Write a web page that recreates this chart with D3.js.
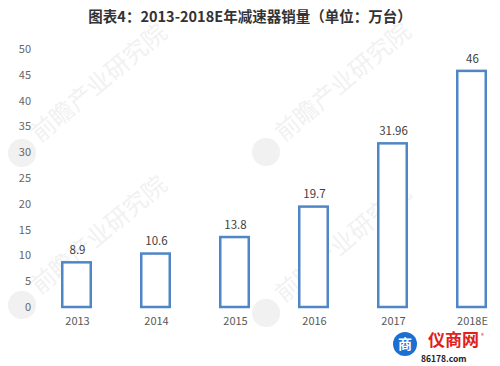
<!DOCTYPE html>
<html><head><meta charset="utf-8">
<script src="https://cdn.jsdelivr.net/npm/d3@7"></script>
<style>body{margin:0;background:#fff}svg{display:block}</style>
</head><body>
<script>
const categories = ["2013","2014","2015","2016","2017","2018E"];
const values = [8.9, 10.6, 13.8, 19.7, 31.96, 46];
const valueLabels = ["8.9","10.6","13.8","19.7","31.96","46"];
const yTicks = [0,5,10,15,20,25,30,35,40,45,50];
const title = "图表4：2013-2018E年减速器销量（单位：万台）";
const watermarks = [[22,153],[22,305],[266,152],[266,313]];

const W=500,H=366;
const svg=d3.select("body").append("svg").attr("width",W).attr("height",H);
const font="'Microsoft YaHei','Noto Sans CJK SC',sans-serif";

// faint watermarks
watermarks.forEach(([x,y])=>{
  const g=svg.append("g").attr("transform",`translate(${x},${y}) rotate(-40)`).attr("opacity",0.07);
  g.append("circle").attr("cx",0).attr("cy",0).attr("r",14).attr("fill","#444");
  g.append("text").attr("x",20).attr("y",4).attr("font-family",font).attr("font-size",24).attr("fill","#444").text("前瞻产业研究院");
});

svg.append("text").attr("x",250).attr("y",22).attr("text-anchor","middle")
  .attr("font-family",font).attr("font-weight","bold").attr("font-size",14.5).attr("fill","#333").text(title);

const x=d3.scaleBand().domain(categories).range([37,511]).paddingInner(0.6).paddingOuter(0.3);
const y=d3.scaleLinear().domain([0,50]).range([307,49]);

const yAxis=svg.append("g").attr("transform","translate(31,0)")
  .call(d3.axisLeft(y).tickValues(yTicks).tickSize(0).tickPadding(0));
yAxis.select(".domain").remove();
yAxis.selectAll("text").attr("font-family",font).attr("font-size",11).attr("fill","#666");

const bw=31;
svg.selectAll("rect.bar").data(values).join("rect").attr("class","bar")
  .attr("x",(d,i)=>x(categories[i])+x.bandwidth()/2-bw/2+1.25)
  .attr("y",d=>y(d)+1.25)
  .attr("width",bw-2.5).attr("height",d=>y(0)-y(d)-1.25)
  .attr("fill","#fff").attr("stroke","#4f86c6").attr("stroke-width",2.5);

svg.selectAll("text.val").data(values).join("text").attr("class","val")
  .attr("x",(d,i)=>x(categories[i])+x.bandwidth()/2+1)
  .attr("y",d=>y(d)-7).attr("text-anchor","middle")
  .attr("font-family",font).attr("font-size",11.5).attr("fill","#404040")
  .text((d,i)=>valueLabels[i]);

const xAxis=svg.append("g").attr("transform","translate(1,311)")
  .call(d3.axisBottom(x).tickSize(0).tickPadding(6));
xAxis.select(".domain").remove();
xAxis.selectAll("text").attr("font-family",font).attr("font-size",11).attr("fill","#595959");

// logo
const lg=svg.append("g");
lg.append("circle").attr("cx",405).attr("cy",344).attr("r",12).attr("fill","#1a6fd0");
lg.append("text").attr("x",405).attr("y",349).attr("text-anchor","middle").attr("font-family",font)
  .attr("font-weight","bold").attr("font-size",14).attr("fill","#fff").text("商");
lg.append("text").attr("x",428).attr("y",346).attr("font-family",font).attr("font-weight","bold")
  .attr("font-size",17).attr("fill","#e0201b").text("仪商网");
lg.append("text").attr("x",481).attr("y",338).attr("font-family",font).attr("font-size",6).attr("fill","#e0201b").text("®");
lg.append("text").attr("x",421).attr("y",362).attr("font-family",font).attr("font-weight","bold")
  .attr("font-size",8.5).attr("fill","#222").text("86178.com");
</script>
</body></html>
